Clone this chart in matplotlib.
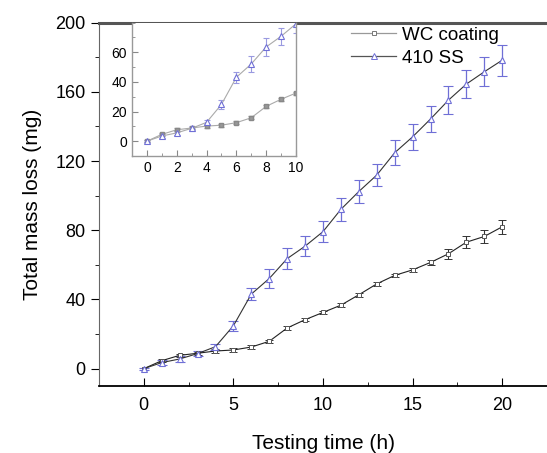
import numpy as np
import matplotlib.pyplot as plt
from matplotlib.ticker import MultipleLocator
from matplotlib.lines import Line2D

plt.rcParams['font.family'] = ['Liberation Sans', 'DejaVu Sans']

# testing time (h)
hours = np.arange(0, 21)
# WC coating mass loss (mg) and its error
wc_loss = [0, 4.6, 7.7, 8.9, 10.2, 10.8, 12.5, 15.8, 23.5, 28.3, 32.5,
           36.7, 42.7, 49.0, 53.9, 57.1, 61.4, 66.4, 73.1, 76.4, 82.0]
wc_err = [0.5, 1, 1, 1, 1, 1, 1, 1, 1, 1, 1,
          1, 1, 1, 1, 1, 1.2, 3.0, 3.3, 3.6, 4.1]
# 410 SS mass loss (mg) and its error
ss_loss = [0, 3.5, 5.6, 8.7, 12.7, 24.8, 43.1, 52.1, 63.6, 70.8, 79.2,
           92.1, 102.4, 111.9, 124.8, 134.0, 144.3, 155.2, 164.5, 171.6, 178.3]
ss_err = [0.5, 1.5, 1.6, 1.5, 1.7, 2.9, 3.5, 5.5, 5.9, 5.9, 6.0,
          6.5, 6.5, 6.3, 7.2, 7.4, 7.4, 8.0, 8.3, 8.5, 9.0]

blue = '#6f6fd6'

fig = plt.figure(figsize=(5.47, 4.53), dpi=100)
ax = fig.add_axes([0.181, 0.148, 0.819, 0.802])

ax.errorbar(hours, wc_loss, yerr=wc_err, color='#222222', lw=0.8,
            marker='s', ms=3.2, mfc='white', mec='#555555', mew=0.7,
            ecolor='#333333', elinewidth=0.8, capsize=3)
ax.errorbar(hours, ss_loss, yerr=ss_err, color='#333333', lw=0.8,
            marker='^', ms=4.5, mfc='white', mec=blue, mew=0.8,
            ecolor=blue, elinewidth=0.9, capsize=3.5)

ax.set_xlim(-2.5, 22.5)
ax.set_ylim(-10, 200)
ax.xaxis.set_major_locator(MultipleLocator(5))
ax.xaxis.set_minor_locator(MultipleLocator(2.5))
ax.yaxis.set_major_locator(MultipleLocator(40))
ax.yaxis.set_minor_locator(MultipleLocator(20))
ax.tick_params(axis='x', which='both', direction='in', labelsize=13, pad=8)
ax.tick_params(axis='x', which='major', length=6)
ax.tick_params(axis='x', which='minor', length=3)
ax.tick_params(axis='y', which='both', direction='out', labelsize=13)
ax.tick_params(axis='y', which='major', length=6)
ax.tick_params(axis='y', which='minor', length=3)
ax.spines['right'].set_visible(False)
ax.spines['top'].set_linewidth(2.2)
ax.spines['top'].set_color('#555555')
ax.spines['left'].set_color('#666666')
ax.spines['bottom'].set_linewidth(1.3)
ax.set_xlabel('Testing time (h)', fontsize=15, labelpad=14)
ax.set_ylabel('Total mass loss (mg)', fontsize=15, labelpad=10)

# legend: plain lines with a small marker, no error bars
handles = [
    Line2D([], [], color='#999999', lw=0.9, marker='s', ms=3, mfc='white',
           mec='#777777', mew=0.7),
    Line2D([], [], color='#555555', lw=0.9, marker='^', ms=4, mfc='white',
           mec=blue, mew=0.7),
]
ax.legend(handles, ['WC coating', '410 SS'], loc='upper left',
          bbox_to_anchor=(0.525, 1.035), frameon=False, fontsize=13.5,
          handlelength=2.4, handletextpad=0.3, labelspacing=0.3)

# inset
ins = fig.add_axes([0.2413, 0.6556, 0.2998, 0.2944])
ins.errorbar(hours[:11], wc_loss[:11], yerr=wc_err[:11], color='#aaaaaa',
             lw=0.8, marker='s', ms=3.2, mfc='#999999', mec='#888888',
             ecolor='#999999', elinewidth=0.7, capsize=2)
ins.errorbar(hours[:11], ss_loss[:11], yerr=ss_err[:11], color='#aaaaaa',
             lw=0.8, marker='^', ms=5, mfc='white', mec=blue, mew=0.8,
             ecolor='#9a9ae0', elinewidth=0.8, capsize=2.5)
ins.set_xlim(-1, 10)
ins.set_ylim(-10, 80)
ins.xaxis.set_major_locator(MultipleLocator(2))
ins.xaxis.set_minor_locator(MultipleLocator(1))
ins.yaxis.set_minor_locator(MultipleLocator(10))
ins.set_yticks([0, 20, 40, 60])
ins.tick_params(which='both', direction='in', labelsize=10, color='#888888')
ins.tick_params(which='major', length=4)
ins.tick_params(which='minor', length=2)
for s in ins.spines.values():
    s.set_color('#999999')
    s.set_linewidth(1.0)
ins.spines['top'].set_visible(False)

fig.savefig('out.png', dpi=100)
